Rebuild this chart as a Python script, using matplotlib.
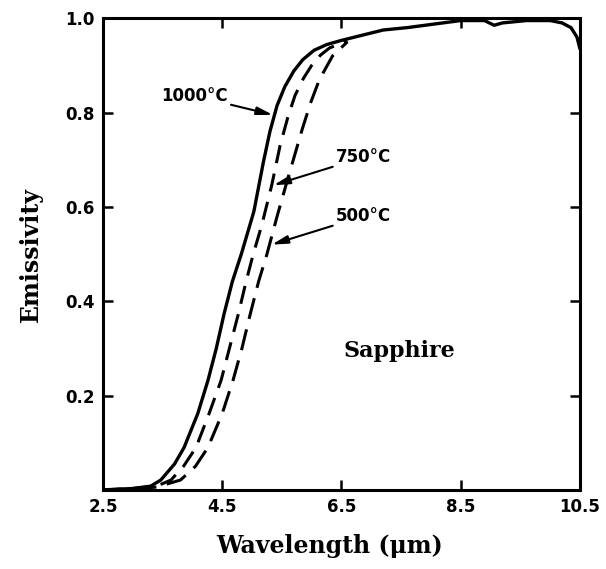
import matplotlib.pyplot as plt

# emissivity of sapphire vs wavelength
wl_1000 = [2.5, 3.0, 3.3, 3.47, 3.7, 3.86, 4.09, 4.26, 4.40, 4.53, 4.67, 4.82,
           5.03, 5.19, 5.30, 5.42, 5.55, 5.70, 5.85, 6.04, 6.25, 6.5, 7.2, 7.6,
           8.2, 8.5, 8.9, 9.06, 9.2, 9.6, 10.0, 10.2, 10.35, 10.45, 10.5]
em_1000 = [0.0, 0.003, 0.008, 0.021, 0.055, 0.09, 0.162, 0.232, 0.30, 0.373, 0.442, 0.50,
           0.59, 0.695, 0.76, 0.815, 0.855, 0.888, 0.912, 0.932, 0.944, 0.953, 0.975, 0.98,
           0.99, 0.995, 0.995, 0.985, 0.99, 0.995, 0.995, 0.99, 0.98, 0.96, 0.935]

wl_750 = [2.5, 3.0, 3.4, 3.64, 3.85, 4.06, 4.28, 4.48, 4.62, 4.77, 4.90, 5.02,
          5.16, 5.33, 5.47, 5.60, 5.72, 5.86, 6.0, 6.15, 6.3, 6.6]
em_750 = [0.0, 0.003, 0.008, 0.021, 0.05, 0.09, 0.162, 0.232, 0.30, 0.373, 0.442, 0.50,
          0.56, 0.646, 0.73, 0.79, 0.836, 0.872, 0.90, 0.922, 0.937, 0.952]

wl_500 = [2.5, 3.0, 3.4, 3.80, 4.05, 4.26, 4.50, 4.68, 4.83, 4.97, 5.11, 5.25,
          5.42, 5.60, 5.84, 5.98, 6.13, 6.35, 6.6]
em_500 = [0.0, 0.002, 0.006, 0.021, 0.05, 0.09, 0.162, 0.232, 0.30, 0.373, 0.442, 0.50,
          0.58, 0.66, 0.764, 0.82, 0.87, 0.92, 0.95]

xticks = [2.5, 4.5, 6.5, 8.5, 10.5]
yticks = [0.2, 0.4, 0.6, 0.8, 1.0]

fig = plt.figure(figsize=(6.06, 5.69), dpi=100)
ax = fig.add_axes([0.170, 0.139, 0.787, 0.829])

ax.plot(wl_1000, em_1000, color="black", lw=2.4, solid_capstyle="round",
        solid_joinstyle="round")
ax.plot(wl_750, em_750, color="black", lw=2.2, dashes=(6, 3.5))
ax.plot(wl_500, em_500, color="black", lw=2.2, dashes=(7, 3.5))

ax.set_xlim(2.5, 10.5)
ax.set_ylim(0, 1.0)
ax.set_xticks(xticks)
ax.set_xticklabels([f"{v:.1f}" for v in xticks])
ax.set_yticks(yticks)
ax.set_yticklabels([f"{v:.1f}" for v in yticks])
ax.tick_params(direction="in", length=7, width=1.8, top=True, right=True,
               labelsize=12, pad=6)
for lab in ax.get_xticklabels() + ax.get_yticklabels():
    lab.set_fontweight("bold")
for sp in ax.spines.values():
    sp.set_linewidth(2.2)

ax.set_xlabel("Wavelength (\u03bcm)", fontsize=17, fontweight="bold",
              family="DejaVu Serif")
ax.xaxis.set_label_coords(0.476, -0.094)
ax.set_ylabel("Emissivity", fontsize=17, fontweight="bold",
              family="DejaVu Serif", labelpad=16)

arrow = dict(arrowstyle="-|>,head_length=0.8,head_width=0.2", color="black",
             lw=1.5, shrinkA=0, shrinkB=0)
ax.annotate("1000\u00b0C", xy=(5.35, 0.795), xytext=(4.6, 0.835),
            fontsize=12, fontweight="bold", ha="right", va="center",
            arrowprops=arrow)
ax.annotate("750\u00b0C", xy=(5.36, 0.646), xytext=(6.4, 0.705),
            fontsize=12, fontweight="bold", ha="left", va="center",
            arrowprops=arrow)
ax.annotate("500\u00b0C", xy=(5.33, 0.52), xytext=(6.4, 0.58),
            fontsize=12, fontweight="bold", ha="left", va="center",
            arrowprops=arrow)

ax.text(6.53, 0.295, "Sapphire", fontsize=16, fontweight="bold",
        family="DejaVu Serif", ha="left", va="center")

fig.savefig("out.png", dpi=100)
